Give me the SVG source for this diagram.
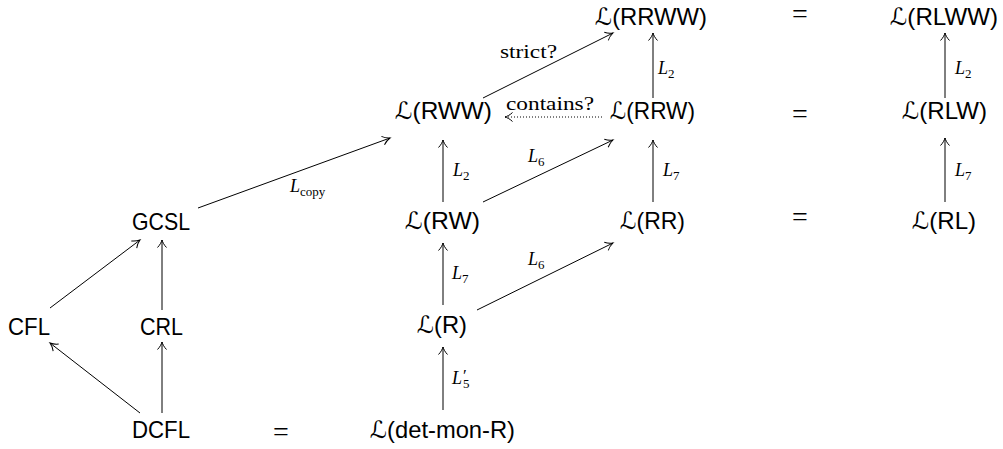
<svg xmlns="http://www.w3.org/2000/svg" width="1003" height="449" viewBox="0 0 1003 449">
<style>
.n{font-family:"Liberation Sans","DejaVu Sans",sans-serif;font-size:24px;fill:#000}
.eq{font-family:"Liberation Serif","DejaVu Serif",serif;font-size:28px;fill:#000;text-anchor:middle}
.m{font-family:"Liberation Serif","DejaVu Serif",serif;font-size:18px;fill:#000}
.mi{font-style:italic}
.sb{font-size:13px}
.pr{font-size:17px}
.t{font-family:"Liberation Serif","DejaVu Serif",serif;font-size:19px;fill:#000}
.c{fill:none;stroke:#000;stroke-width:1}
.d{fill:none;stroke:#000;stroke-width:1;stroke-dasharray:1 2}
</style>
<defs>
<marker id="ah" viewBox="-10 -6 12 12" refX="0" refY="0" markerWidth="12" markerHeight="12" orient="auto" markerUnits="userSpaceOnUse">
<path d="M-7.5,-4.5 C-5,-2 -2,-0.6 0,0 C-2,0.6 -5,2 -7.5,4.5" fill="none" stroke="#000" stroke-width="1"/>
</marker>
</defs>
<g id="connectors">
<line class="c" x1="653" y1="98" x2="653" y2="33" marker-end="url(#ah)"/>
<line class="c" x1="483" y1="98" x2="613" y2="33" marker-end="url(#ah)"/>
<line class="d" x1="602" y1="117" x2="505" y2="117" marker-end="url(#ah)"/>
<line class="c" x1="945" y1="98" x2="945" y2="33" marker-end="url(#ah)"/>
<line class="c" x1="443" y1="202" x2="443" y2="140" marker-end="url(#ah)"/>
<line class="c" x1="483" y1="202" x2="613" y2="140" marker-end="url(#ah)"/>
<line class="c" x1="653" y1="202" x2="653" y2="140" marker-end="url(#ah)"/>
<line class="c" x1="945" y1="202" x2="945" y2="138" marker-end="url(#ah)"/>
<line class="c" x1="198" y1="208" x2="390" y2="138" marker-end="url(#ah)"/>
<line class="c" x1="443" y1="305" x2="443" y2="243" marker-end="url(#ah)"/>
<line class="c" x1="477" y1="310" x2="613" y2="243" marker-end="url(#ah)"/>
<line class="c" x1="50" y1="308" x2="140" y2="240" marker-end="url(#ah)"/>
<line class="c" x1="162" y1="310" x2="162" y2="240" marker-end="url(#ah)"/>
<line class="c" x1="140" y1="413" x2="50" y2="343" marker-end="url(#ah)"/>
<line class="c" x1="162" y1="413" x2="162" y2="342" marker-end="url(#ah)"/>
<line class="c" x1="443" y1="410" x2="443" y2="347" marker-end="url(#ah)"/>
<text class="m" x="658" y="74"><tspan class="mi">L</tspan><tspan class="sb" dy="4">2</tspan></text>
<text class="t" x="500" y="58" textLength="57" lengthAdjust="spacingAndGlyphs">strict?</text>
<text class="t" x="506" y="110" textLength="88" lengthAdjust="spacingAndGlyphs">contains?</text>
<text class="m" x="955" y="74"><tspan class="mi">L</tspan><tspan class="sb" dy="4">2</tspan></text>
<text class="m" x="453" y="176"><tspan class="mi">L</tspan><tspan class="sb" dy="4">2</tspan></text>
<text class="m" x="528" y="162"><tspan class="mi">L</tspan><tspan class="sb" dy="4">6</tspan></text>
<text class="m" x="663" y="176"><tspan class="mi">L</tspan><tspan class="sb" dy="4">7</tspan></text>
<text class="m" x="955" y="176"><tspan class="mi">L</tspan><tspan class="sb" dy="4">7</tspan></text>
<text class="m" x="290" y="192"><tspan class="mi">L</tspan><tspan class="sb" dy="4">copy</tspan></text>
<text class="m" x="452" y="279"><tspan class="mi">L</tspan><tspan class="sb" dy="4">7</tspan></text>
<text class="m" x="528" y="265"><tspan class="mi">L</tspan><tspan class="sb" dy="4">6</tspan></text>
<text class="m" x="452" y="384"><tspan class="mi">L</tspan><tspan class="pr" x="463" dy="-3">′</tspan><tspan class="sb" x="463" dy="7">5</tspan></text>
</g>
<g id="n-rrww"><text class="n" x="595" y="25" textLength="112" lengthAdjust="spacingAndGlyphs">ℒ(RRWW)</text></g>
<g id="eq1"><text class="eq" x="800" y="23">=</text></g>
<g id="n-rlww"><text class="n" x="890" y="25" textLength="108" lengthAdjust="spacingAndGlyphs">ℒ(RLWW)</text></g>
<g id="n-rww"><text class="n" x="395" y="119" textLength="97" lengthAdjust="spacingAndGlyphs">ℒ(RWW)</text></g>
<g id="n-rrw"><text class="n" x="610" y="119" textLength="85" lengthAdjust="spacingAndGlyphs">ℒ(RRW)</text></g>
<g id="eq2"><text class="eq" x="800" y="123">=</text></g>
<g id="n-rlw"><text class="n" x="902" y="119" textLength="85" lengthAdjust="spacingAndGlyphs">ℒ(RLW)</text></g>
<g id="n-gcsl"><text class="n" x="132" y="230" textLength="58" lengthAdjust="spacingAndGlyphs">GCSL</text></g>
<g id="n-rw"><text class="n" x="405" y="229" textLength="75" lengthAdjust="spacingAndGlyphs">ℒ(RW)</text></g>
<g id="n-rr"><text class="n" x="620" y="229" textLength="65" lengthAdjust="spacingAndGlyphs">ℒ(RR)</text></g>
<g id="eq3"><text class="eq" x="800" y="226">=</text></g>
<g id="n-rl"><text class="n" x="912" y="229" textLength="64" lengthAdjust="spacingAndGlyphs">ℒ(RL)</text></g>
<g id="n-cfl"><text class="n" x="8" y="335" textLength="42" lengthAdjust="spacingAndGlyphs">CFL</text></g>
<g id="n-crl"><text class="n" x="140" y="335" textLength="43" lengthAdjust="spacingAndGlyphs">CRL</text></g>
<g id="n-r"><text class="n" x="417" y="333" textLength="50" lengthAdjust="spacingAndGlyphs">ℒ(R)</text></g>
<g id="n-dcfl"><text class="n" x="132" y="438" textLength="58" lengthAdjust="spacingAndGlyphs">DCFL</text></g>
<g id="eq4"><text class="eq" x="281" y="441">=</text></g>
<g id="n-detmonr"><text class="n" x="370" y="438" textLength="145" lengthAdjust="spacingAndGlyphs">ℒ(det-mon-R)</text></g>
</svg>
